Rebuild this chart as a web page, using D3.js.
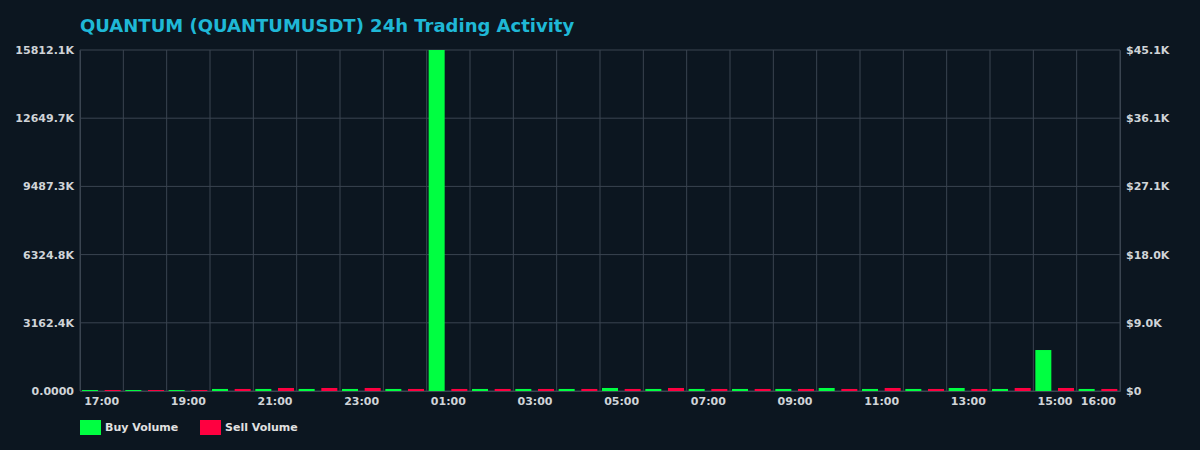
<!DOCTYPE html>
<html><head><meta charset="utf-8">
<script src="https://cdn.jsdelivr.net/npm/d3@7"></script>
<style>body{margin:0;background:#0c1620;}svg{display:block;font-family:"DejaVu Sans",sans-serif;}</style>
</head><body><svg id="c" width="1200" height="450"></svg>
<script>
const hours = ["17:00","18:00","19:00","20:00","21:00","22:00","23:00","00:00","01:00","02:00","03:00","04:00","05:00","06:00","07:00","08:00","09:00","10:00","11:00","12:00","13:00","14:00","15:00","16:00"];
const buyVolume = [45,45,45,95,95,95,95,95,15812,95,95,95,140,95,95,95,95,140,95,95,140,95,1900,95];
const sellVolume = [45,45,45,95,140,140,140,95,95,95,95,95,95,140,95,95,95,95,140,95,95,140,140,95];
const tickLabels = ["17:00","19:00","21:00","23:00","01:00","03:00","05:00","07:00","09:00","11:00","13:00","15:00","16:00"];
const leftMax = 15812.1, rightMax = 45.1;

const svg = d3.select("#c");
const m = {l:80, r:1120, t:50, b:391};
const x = d3.scaleBand().domain(hours).range([m.l, m.r]);
const y = d3.scaleLinear().domain([0, leftMax]).range([m.b, m.t]);
const yR = d3.scaleLinear().domain([0, rightMax]).range([m.b, m.t]);
const lt = d3.range(6).map(i => leftMax*i/5);
const rt = d3.range(6).map(i => rightMax*i/5);
const grid = "#3a4450";

svg.append("text").attr("x",80).attr("y",32).attr("fill","#1fb8d6").attr("font-size",18).attr("font-weight","bold")
  .text("QUANTUM (QUANTUMUSDT) 24h Trading Activity");

svg.append("g").selectAll("line").data(lt).join("line")
  .attr("x1",m.l).attr("x2",m.r).attr("y1",d=>y(d)).attr("y2",d=>y(d)).attr("stroke",grid);
svg.append("g").selectAll("line").data(hours.concat(["end"])).join("line")
  .attr("x1",(d,i)=>m.l+i*x.step()).attr("x2",(d,i)=>m.l+i*x.step()).attr("y1",m.t).attr("y2",m.b).attr("stroke",grid);

const bw = 16;
svg.append("g").selectAll("rect").data(hours).join("rect")
  .attr("x",d=>x(d)+2).attr("width",bw).attr("y",(d,i)=>y(buyVolume[i])).attr("height",(d,i)=>m.b-y(buyVolume[i])).attr("fill","#00ff41");
svg.append("g").selectAll("rect").data(hours).join("rect")
  .attr("x",d=>x(d)+x.step()/2+3).attr("width",bw).attr("y",(d,i)=>y(sellVolume[i])).attr("height",(d,i)=>m.b-y(sellVolume[i])).attr("fill","#ff0040");

const tc = "#d0d4d8";
const la = svg.append("g").attr("transform",`translate(${m.l},0)`)
  .call(d3.axisLeft(y).tickValues(lt).tickSize(0).tickPadding(6).tickFormat((d,i)=> i===0?"0.0000":d3.format(".1f")(d)+"K"));
const ra = svg.append("g").attr("transform",`translate(${m.r},0)`)
  .call(d3.axisRight(yR).tickValues(rt).tickSize(0).tickPadding(6).tickFormat((d,i)=> i===0?"$0":"$"+d3.format(".1f")(d)+"K"));
const xa = svg.append("g").attr("transform",`translate(0,${m.b})`)
  .call(d3.axisBottom(x).tickValues(tickLabels).tickSize(0).tickPadding(6));
[la,ra,xa].forEach(a=>{a.select(".domain").attr("stroke",grid);a.selectAll("text").attr("fill",tc).attr("font-size",11).attr("font-weight","bold").attr("font-family","DejaVu Sans");});

const leg = [["Buy Volume","#00ff41",80],["Sell Volume","#ff0040",200]];
leg.forEach(([t,c,lx])=>{
  svg.append("rect").attr("x",lx).attr("y",420).attr("width",21).attr("height",15).attr("fill",c);
  svg.append("text").attr("x",lx+25).attr("y",431).attr("fill","#e0e0e0").attr("font-size",11).attr("font-weight","bold").text(t);
});
</script></body></html>
